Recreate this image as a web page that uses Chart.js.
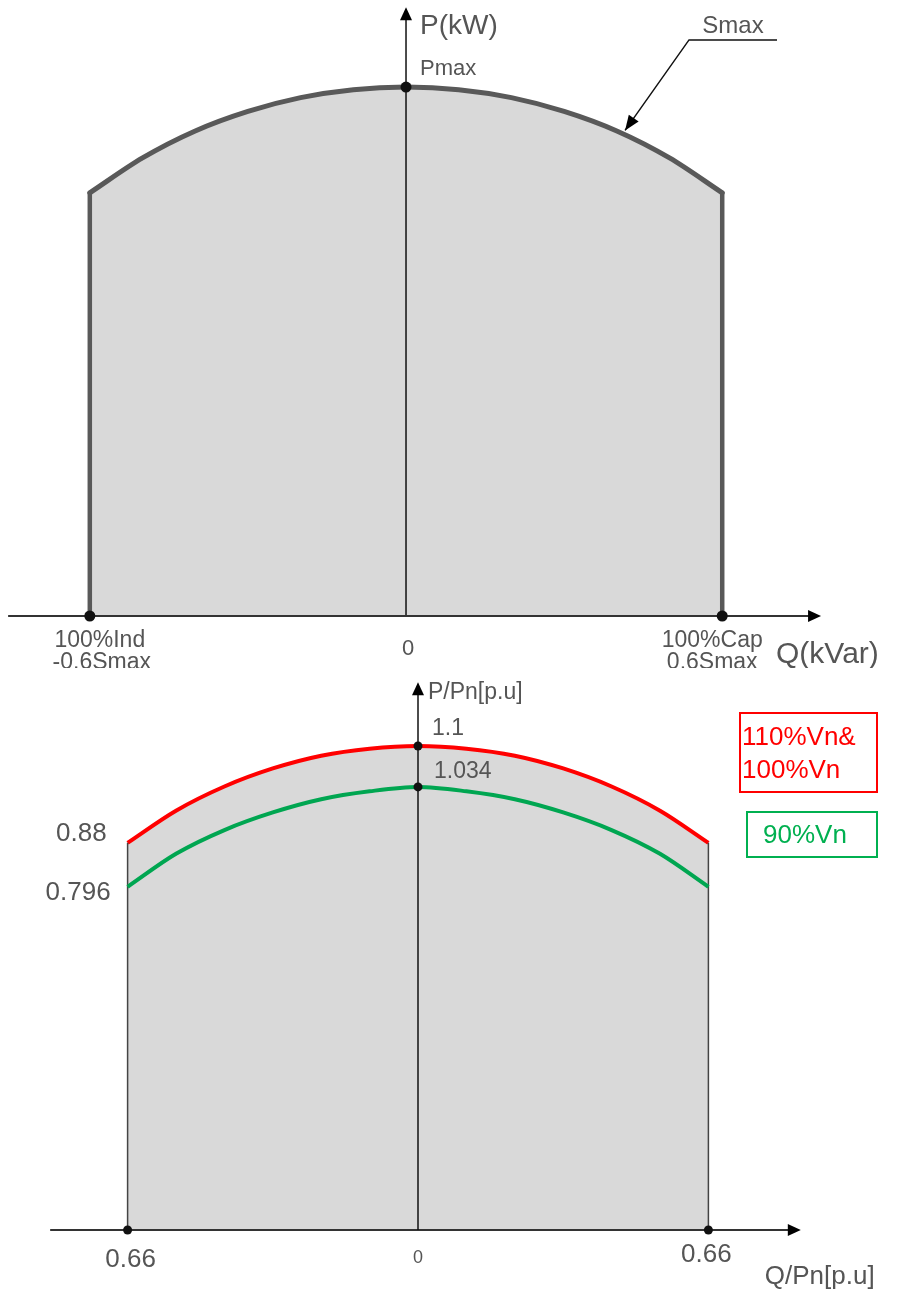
<!DOCTYPE html>
<html>
<head>
<meta charset="utf-8">
<script src="https://cdn.jsdelivr.net/npm/chart.js"></script>
<style>
  body { margin: 0; background: #fff; }
  canvas { position: absolute; left: 0; }
  #top { top: 0; }
  #bot { top: 668px; }
</style>
</head>
<body>
<canvas id="top" width="913" height="668"></canvas>
<canvas id="bot" width="913" height="624"></canvas>
<script>
// top diagram: P-Q capability, Smax arc
const topQ = [-0.6, -0.5, -0.4, -0.3, -0.2, -0.1, 0, 0.1, 0.2, 0.3, 0.4, 0.5, 0.6];
const topP = [0.8, 0.866, 0.917, 0.954, 0.98, 0.995, 1.0, 0.995, 0.98, 0.954, 0.917, 0.866, 0.8];
const topLabels = ['100%Ind', '-0.6Smax', '0', '100%Cap', '0.6Smax'];

// bottom diagram: P/Pn vs Q/Pn
const botQ = [-0.66, -0.55, -0.44, -0.33, -0.22, -0.11, 0, 0.11, 0.22, 0.33, 0.44, 0.55, 0.66];
const redP = [0.88, 0.953, 1.008, 1.049, 1.078, 1.094, 1.1, 1.094, 1.078, 1.049, 1.008, 0.953, 0.88];       // 110%Vn & 100%Vn
const greenP = [0.78, 0.855, 0.909, 0.949, 0.979, 0.997, 1.007, 0.997, 0.979, 0.949, 0.909, 0.855, 0.78];  // 90%Vn
const yTickLabels = ['1.1', '1.034', '0.88', '0.796'];
const xTickLabels = ['0.66', '0', '0.66'];

const FONT = "'Liberation Sans', Arial, sans-serif";
const GREY = '#555';

const pts = (xs, ys) => xs.map((x, i) => ({ x: x, y: ys[i] }));
const last = (a) => a[a.length - 1];
const mid = (a) => a[(a.length - 1) / 2];

function arrowHead(ctx, x1, y1, x2, y2, len, half) {
  const a = Math.atan2(y2 - y1, x2 - x1);
  ctx.beginPath();
  ctx.moveTo(x2, y2);
  ctx.lineTo(x2 - len * Math.cos(a) + half * Math.sin(a), y2 - len * Math.sin(a) - half * Math.cos(a));
  ctx.lineTo(x2 - len * Math.cos(a) - half * Math.sin(a), y2 - len * Math.sin(a) + half * Math.cos(a));
  ctx.closePath();
  ctx.fill();
}

// text, arrows and boxes drawn on top, positioned through the scales
function extras(notes, arrows, leaders, boxes) {
  return {
    id: 'extras',
    afterDatasetsDraw(chart) {
      const ctx = chart.ctx, sx = chart.scales.x, sy = chart.scales.y;
      const px = (v) => sx.getPixelForValue(v), py = (v) => sy.getPixelForValue(v);
      ctx.save();
      ctx.fillStyle = '#000';
      arrows.forEach(a => arrowHead(ctx, px(a[0]), py(a[1]), px(a[2]), py(a[3]), 13, 6));
      leaders.forEach(l => {
        ctx.strokeStyle = '#111';
        ctx.lineWidth = 1.5;
        ctx.beginPath();
        l.forEach((p, i) => i ? ctx.lineTo(px(p[0]), py(p[1])) : ctx.moveTo(px(p[0]), py(p[1])));
        ctx.stroke();
        const a = l[l.length - 2], b = l[l.length - 1];
        arrowHead(ctx, px(a[0]), py(a[1]), px(b[0]), py(b[1]), 15, 6);
      });
      boxes.forEach(b => {
        ctx.strokeStyle = b.color;
        ctx.lineWidth = 2;
        ctx.strokeRect(b.x, b.y, b.w, b.h);
        ctx.fillStyle = b.color;
        ctx.font = b.size + 'px ' + FONT;
        ctx.textAlign = 'left';
        b.lines.forEach((t, i) => ctx.fillText(t, b.tx, b.ty + i * 33));
      });
      notes.forEach(n => {
        ctx.font = n.size + 'px ' + FONT;
        ctx.fillStyle = n.color || GREY;
        ctx.textAlign = n.align || 'left';
        ctx.textBaseline = 'alphabetic';
        ctx.fillText(n.t, px(n.x) + (n.dx || 0), py(n.y) + (n.dy || 0));
      });
      ctx.restore();
    }
  };
}

function baseOptions(xmin, xmax, ymin, ymax) {
  return {
    responsive: false,
    animation: false,
    events: [],
    layout: { padding: 0, autoPadding: false },
    plugins: { legend: { display: false }, tooltip: { enabled: false } },
    elements: { point: { radius: 0 } },
    scales: {
      x: { type: 'linear', display: false, min: xmin, max: xmax },
      y: { type: 'linear', display: false, min: ymin, max: ymax }
    }
  };
}

// ---------- top chart ----------
const topAxisX = [-0.755, 0.7875];
const topAxisY = 1.151;
const qL = topQ[0], qR = last(topQ);

new Chart(document.getElementById('top'), {
  type: 'scatter',
  data: {
    datasets: [
      { data: [{ x: qL, y: 0 }, { x: qR, y: 0 }, { x: 0, y: mid(topP) }],
        pointRadius: 5.5, pointBackgroundColor: '#111', pointBorderWidth: 0, order: 0 },
      { data: [{ x: 0, y: 0 }, { x: 0, y: topAxisY - 0.02 }], showLine: true,
        borderColor: '#111', borderWidth: 1.5, order: 2 },
      { data: [{ x: topAxisX[0], y: 0 }, { x: topAxisX[1] - 0.02, y: 0 }], showLine: true,
        borderColor: '#333', borderWidth: 2, order: 1 },
      { data: pts(topQ, topP), showLine: true, cubicInterpolationMode: 'monotone',
        borderColor: '#595959', borderWidth: 5, borderCapStyle: 'round',
        fill: 'origin', backgroundColor: '#d9d9d9', order: 5 },
      { data: [{ x: qL, y: 0 }, { x: qL, y: topP[0] }], showLine: true,
        borderColor: '#595959', borderWidth: 4.5, borderCapStyle: 'round', order: 4 },
      { data: [{ x: qR, y: 0 }, { x: qR, y: last(topP) }], showLine: true,
        borderColor: '#595959', borderWidth: 4.5, borderCapStyle: 'round', order: 4 }
    ]
  },
  options: baseOptions(-0.7704, 0.962, -0.0983, 1.1645),
  plugins: [extras(
    [
      { t: 'P(kW)', x: 0, y: topAxisY, dx: 14, dy: 27, size: 28 },
      { t: 'Pmax', x: 0, y: mid(topP), dx: 14, dy: -12, size: 22 },
      { t: 'Smax', x: 0.6205, y: 1.102, align: 'center', size: 24 },
      { t: topLabels[0], x: qL, y: 0, dx: 10, dy: 31, align: 'center', size: 23 },
      { t: topLabels[1], x: qL, y: 0, dx: 12, dy: 53, align: 'center', size: 23 },
      { t: topLabels[2], x: 0, y: 0, dx: 2, dy: 39, align: 'center', size: 22 },
      { t: topLabels[3], x: qR, y: 0, dx: -10, dy: 31, align: 'center', size: 23 },
      { t: topLabels[4], x: qR, y: 0, dx: -10, dy: 53, align: 'center', size: 23 },
      { t: 'Q(kVar)', x: topAxisX[1], y: 0, dx: -45, dy: 47, size: 30 }
    ],
    [[0, 0, 0, topAxisY], [topAxisX[0], 0, topAxisX[1], 0]],
    [[[0.704, 1.089], [0.537, 1.089], [0.4156, 0.918]]],
    []
  )]
});

// ---------- bottom chart ----------
const botAxisX = [-0.836, 0.870];
const botAxisY = 1.245;
const bL = botQ[0], bR = last(botQ);

new Chart(document.getElementById('bot'), {
  type: 'scatter',
  data: {
    datasets: [
      { data: [{ x: bL, y: 0 }, { x: bR, y: 0 }, { x: 0, y: mid(redP) }, { x: 0, y: mid(greenP) }],
        pointRadius: 4.5, pointBackgroundColor: '#111', pointBorderWidth: 0, order: 0 },
      { data: pts(botQ, greenP), showLine: true, cubicInterpolationMode: 'monotone',
        borderColor: '#00a651', borderWidth: 4, order: 1 },
      { data: [{ x: 0, y: 0 }, { x: 0, y: botAxisY - 0.02 }], showLine: true,
        borderColor: '#111', borderWidth: 1.5, order: 2 },
      { data: [{ x: botAxisX[0], y: 0 }, { x: botAxisX[1] - 0.02, y: 0 }], showLine: true,
        borderColor: '#333', borderWidth: 2, order: 2 },
      { data: [{ x: bL, y: 0 }, { x: bL, y: redP[0] }], showLine: true,
        borderColor: '#444', borderWidth: 1.5, order: 3 },
      { data: [{ x: bR, y: 0 }, { x: bR, y: last(redP) }], showLine: true,
        borderColor: '#444', borderWidth: 1.5, order: 3 },
      { data: pts(botQ, redP), showLine: true, cubicInterpolationMode: 'monotone',
        borderColor: '#ff0000', borderWidth: 4,
        fill: 'origin', backgroundColor: '#d9d9d9', order: 6 }
    ]
  },
  options: baseOptions(-0.95, 1.125, -0.1409, 1.2773),
  plugins: [extras(
    [
      { t: 'P/Pn[p.u]', x: 0, y: botAxisY, dx: 10, dy: 17, size: 23 },
      { t: yTickLabels[0], x: 0, y: mid(redP), dx: 14, dy: -11, size: 23 },
      { t: yTickLabels[1], x: 0, y: mid(greenP), dx: 16, dy: -9, size: 23 },
      { t: yTickLabels[2], x: bL, y: redP[0], dx: -21, dy: -2, align: 'right', size: 26 },
      { t: yTickLabels[3], x: bL, y: greenP[0], dx: -17, dy: 13, align: 'right', size: 26 },
      { t: xTickLabels[0], x: bL, y: 0, dx: 3, dy: 37, align: 'center', size: 26 },
      { t: xTickLabels[1], x: 0, y: 0, dx: 0, dy: 33, align: 'center', size: 18 },
      { t: xTickLabels[2], x: bR, y: 0, dx: -2, dy: 32, align: 'center', size: 26 },
      { t: 'Q/Pn[p.u]', x: botAxisX[1], y: 0, dx: -36, dy: 54, size: 26 }
    ],
    [[0, 0, 0, botAxisY], [botAxisX[0], 0, botAxisX[1], 0]],
    [],
    [
      { color: '#ff0000', x: 740, y: 45, w: 137, h: 79, tx: 742, ty: 77, size: 26, lines: ['110%Vn&', '100%Vn'] },
      { color: '#00b050', x: 747, y: 144, w: 130, h: 45, tx: 763, ty: 175, size: 26, lines: ['90%Vn'] }
    ]
  )]
});
</script>
</body>
</html>
